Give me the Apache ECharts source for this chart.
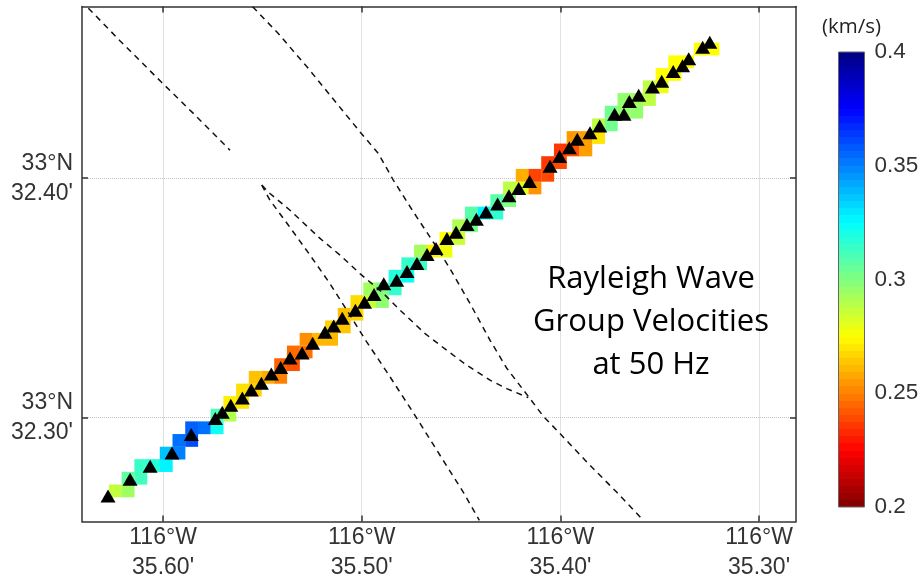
<!DOCTYPE html>
<html><head><meta charset="utf-8">
<style>html,body{margin:0;padding:0;background:#fff}#c{width:921px;height:577px}</style>
<script src="https://cdn.jsdelivr.net/npm/echarts@6/dist/echarts.min.js"></script>
</head><body><div id="c"></div>
<script>
const xTicks=[35.6,35.5,35.4,35.3];
const yTicks=[32.4,32.3];
const cellLon=[35.6240,35.6176,35.6176,35.6112,35.6112,35.6048,35.5984,35.5984,35.5920,35.5920,35.5856,35.5856,35.5792,35.5728,35.5728,35.5664,35.5664,35.5600,35.5600,35.5536,35.5536,35.5472,35.5408,35.5408,35.5344,35.5344,35.5280,35.5280,35.5216,35.5152,35.5152,35.5088,35.5088,35.5024,35.5024,35.4960,35.4960,35.4896,35.4896,35.4832,35.4832,35.4768,35.4768,35.4704,35.4704,35.4640,35.4576,35.4576,35.4512,35.4512,35.4448,35.4448,35.4384,35.4320,35.4320,35.4256,35.4256,35.4192,35.4192,35.4128,35.4128,35.4064,35.4064,35.4000,35.4000,35.3936,35.3936,35.3872,35.3872,35.3808,35.3808,35.3744,35.3744,35.3680,35.3680,35.3616,35.3616,35.3552,35.3552,35.3488,35.3488,35.3424,35.3424,35.3360,35.3296,35.3232];
const cellLat=[32.2692,32.2692,32.2745,32.2745,32.2798,32.2798,32.2798,32.2850,32.2850,32.2903,32.2903,32.2956,32.2956,32.2956,32.3009,32.3009,32.3062,32.3062,32.3114,32.3114,32.3167,32.3167,32.3167,32.3220,32.3220,32.3273,32.3273,32.3326,32.3326,32.3326,32.3378,32.3378,32.3431,32.3431,32.3484,32.3484,32.3537,32.3484,32.3537,32.3537,32.3590,32.3590,32.3642,32.3642,32.3695,32.3695,32.3695,32.3748,32.3748,32.3801,32.3801,32.3854,32.3854,32.3854,32.3906,32.3906,32.3959,32.3959,32.4012,32.3959,32.4012,32.4012,32.4065,32.4065,32.4118,32.4118,32.4170,32.4118,32.4170,32.4170,32.4223,32.4223,32.4276,32.4276,32.4329,32.4276,32.4329,32.4329,32.4382,32.4382,32.4434,32.4434,32.4487,32.4487,32.4540,32.4540];
const cellVel=[.287,.294,.306,.312,.314,.318,.327,.337,.350,.353,.360,.356,.353,.322,.310,.290,.272,.270,.269,.266,.263,.259,.250,.244,.241,.246,.247,.253,.261,.261,.266,.264,.263,.2675,.268,.286,.2935,.297,.300,.315,.318,.323,.315,.313,.293,.272,.278,.275,.285,.291,.303,.308,.327,.316,.308,.300,.288,.281,.259,.254,.238,.239,.236,.239,.236,.241,.255,.256,.256,.270,.288,.303,.303,.296,.296,.296,.294,.288,.288,.279,.275,.275,.275,.275,.275,.275];
const staLon=[35.6277,35.6166,35.6065,35.5955,35.5858,35.5737,35.5702,35.5659,35.5601,35.5556,35.5505,35.5455,35.5408,35.5361,35.5300,35.5247,35.5185,35.5141,35.5098,35.5032,35.4986,35.4938,35.4889,35.4824,35.4772,35.4722,35.4671,35.4626,35.4571,35.4525,35.4470,35.4423,35.4374,35.4316,35.4259,35.4210,35.4155,35.4052,35.4004,35.3955,35.3915,35.3851,35.3802,35.3727,35.3680,35.3653,35.3606,35.3537,35.3490,35.3432,35.3385,35.3354,35.3284,35.3248];
const staLat=[32.2671,32.2741,32.2795,32.2851,32.2928,32.2995,32.3021,32.3050,32.3081,32.3114,32.3142,32.3181,32.3208,32.3248,32.3269,32.3310,32.3356,32.3382,32.3414,32.3448,32.3481,32.3513,32.3558,32.3573,32.3610,32.3643,32.3681,32.3706,32.3748,32.3774,32.3806,32.3828,32.3859,32.3892,32.3926,32.3957,32.3986,32.4050,32.4091,32.4127,32.4163,32.4190,32.4218,32.4267,32.4267,32.4321,32.4347,32.4381,32.4405,32.4446,32.4470,32.4499,32.4548,32.4568];
const fault1=[[35.6376,32.4711],[35.6216,32.4574],[35.6010,32.4403],[35.5839,32.4264],[35.5663,32.4117]];
const fault2=[[35.5549,32.4717],[35.5420,32.4605],[35.5269,32.4459],[35.5126,32.4313],[35.5009,32.4194],[35.4916,32.4103],[35.4841,32.3992],[35.4740,32.3859],[35.4640,32.3733],[35.4556,32.3622],[35.4455,32.3476],[35.4354,32.3322],[35.4270,32.3205],[35.4153,32.3078],[35.4086,32.3004],[35.4002,32.2932],[35.3851,32.2799],[35.3717,32.2687],[35.3586,32.2572]];
const fault3=[[35.5503,32.3971],[35.5462,32.3936],[35.5361,32.3866],[35.5210,32.3748],[35.5109,32.3678],[35.5009,32.3601],[35.4891,32.3518],[35.4807,32.3448],[35.4681,32.3350],[35.4572,32.3280],[35.4472,32.3218],[35.4354,32.3155],[35.4270,32.3120],[35.4162,32.3082]];
const fault4=[[35.5503,32.3971],[35.5462,32.3908],[35.5369,32.3803],[35.5260,32.3678],[35.5160,32.3559],[35.5075,32.3448],[35.4975,32.3315],[35.4874,32.3190],[35.4732,32.3008],[35.4606,32.2841],[35.4489,32.2687],[35.4408,32.2569]];
const jet=['#800000','#ff0000','#ff8000','#ffff00','#80ff80','#00ffff','#0080ff','#0000ff','#000080'];
const xDeg='116°W', yDeg='33°N';
const lonRange=[35.2814,35.6408], latRange=[32.2564,32.4718];
const bandCount=64;
const bandStops=[];
for(let i=0;i<bandCount;i++){
  const c=echarts.color.lerp((i+.5)/bandCount,jet);
  bandStops.push({offset:i/bandCount,color:c},{offset:(i+1)/bandCount,color:c});
}
const frame={show:true,lineStyle:{color:'#333',width:1.5}};
const tick=(vals)=>({show:true,inside:true,length:6,customValues:vals,lineStyle:{color:'#333',width:1.5}});
const split=(vals)=>({show:true,customValues:vals,lineStyle:{color:'#c4c4c4',type:'dotted',width:1}});
const labelFont={fontFamily:'Liberation Sans',fontSize:23,color:'#333',lineHeight:30};
const fault=(d)=>({type:'line',data:d,xAxisIndex:0,yAxisIndex:0,symbol:'none',z:3,silent:true,animation:false,lineStyle:{color:'#111',width:1.5,type:[6,5]}});
const option={
 animation:false,
 grid:[{left:82,top:6.5,width:714,height:515,outerBoundsMode:'none',containLabel:false},
       {left:838.5,top:52,width:26,height:455,outerBoundsMode:'none',containLabel:false,show:true,borderColor:'#666',borderWidth:1,
        backgroundColor:{type:'linear',x:0,y:1,x2:0,y2:0,colorStops:bandStops}}],
 title:{text:'Rayleigh Wave\nGroup Velocities\nat 50 Hz',left:646,top:253,textAlign:'center',textStyle:{fontFamily:'Open Sans',fontWeight:'normal',fontSize:31,lineHeight:43,color:'#000'}},
 graphic:[{type:'text',left:822,top:17,style:{text:'(km/s)',fontFamily:'Open Sans',fontSize:20.5,fill:'#222'}}],
 xAxis:[
  {type:'value',gridIndex:0,position:'bottom',inverse:true,min:lonRange[0],max:lonRange[1],axisLine:frame,axisTick:tick(xTicks),splitLine:split(xTicks),
   axisLabel:{customValues:xTicks,margin:1.5,...labelFont,formatter:v=>xDeg+"\n"+v.toFixed(2)+"'"}},
  {type:'value',gridIndex:0,position:'top',inverse:true,min:lonRange[0],max:lonRange[1],axisLine:frame,axisTick:tick(xTicks),splitLine:{show:false},axisLabel:{show:false}},
  {type:'value',gridIndex:1,min:0,max:1,show:false}
 ],
 yAxis:[
  {type:'value',gridIndex:0,position:'left',min:latRange[0],max:latRange[1],axisLine:frame,axisTick:tick(yTicks),splitLine:split(yTicks),
   axisLabel:{customValues:yTicks,margin:9,align:'right',...labelFont,formatter:v=>yDeg+"\n"+v.toFixed(2)+"'"}},
  {type:'value',gridIndex:0,position:'right',min:latRange[0],max:latRange[1],axisLine:frame,axisTick:tick(yTicks),splitLine:{show:false},axisLabel:{show:false}},
  {type:'value',gridIndex:1,position:'right',min:.2,max:.4,interval:.05,axisLine:{show:false},axisTick:{show:false},splitLine:{show:false},
   axisLabel:{margin:10,fontFamily:'Liberation Sans',fontSize:22.5,color:'#333'}}
 ],
 visualMap:{type:'continuous',show:false,seriesIndex:0,dimension:2,min:.2,max:.4,inRange:{color:jet}},
 series:[
  {type:'scatter',xAxisIndex:0,yAxisIndex:0,symbol:'rect',symbolSize:[12.9,12.8],z:2,silent:true,itemStyle:{opacity:1},data:cellLon.map((x,i)=>[x,cellLat[i],cellVel[i]])},
  fault(fault1),fault(fault2),fault(fault3),fault(fault4),
  {type:'scatter',xAxisIndex:0,yAxisIndex:0,symbol:'triangle',symbolSize:[15,13],z:4,silent:true,itemStyle:{color:'#000',opacity:1},data:staLon.map((x,i)=>[x,staLat[i]])},
  {type:'scatter',xAxisIndex:2,yAxisIndex:2,data:[],silent:true}
 ]
};
const chart=echarts.init(document.getElementById('c'),null,{renderer:'canvas'});
chart.setOption(option);
</script></body></html>
